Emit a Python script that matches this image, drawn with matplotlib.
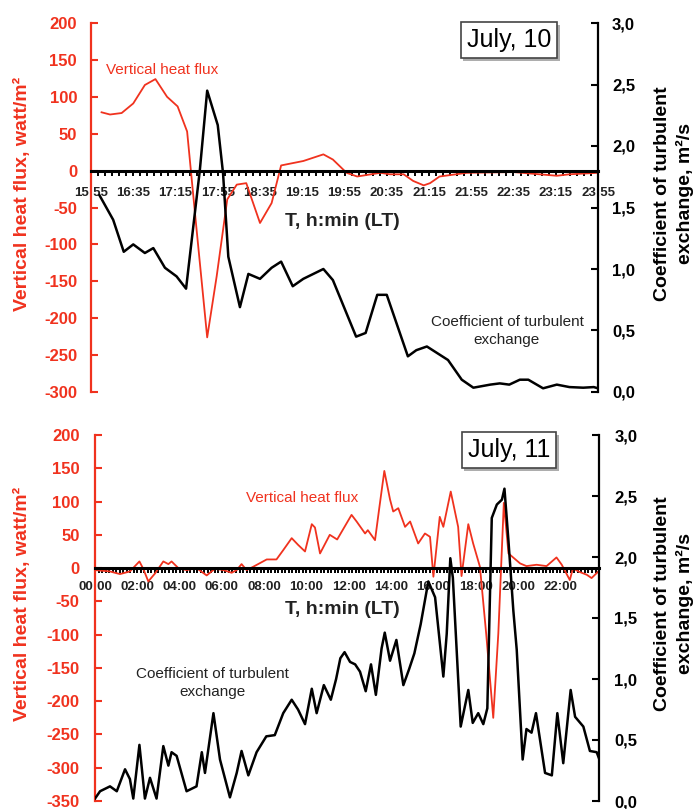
import numpy as np
import matplotlib
matplotlib.use('Agg')
import matplotlib.pyplot as plt
from matplotlib.ticker import FixedLocator
import matplotlib.patheffects as pe

plt.rcParams['font.family'] = ['Liberation Sans', 'DejaVu Sans']
plt.rcParams['axes.unicode_minus'] = False

RED = '#f0321e'
W, H = 698, 809

# ---- July 10 (times in minutes since midnight) ----
top_flux_min = [965, 973, 984, 995, 1006, 1016, 1027, 1037, 1046, 1054,
                1065, 1074, 1084, 1093, 1102, 1115, 1126, 1135, 1156, 1175,
                1184, 1197, 1207, 1229, 1238, 1251, 1260, 1270, 1276, 1285,
                1311, 1355, 1396, 1408, 1435]
top_flux = [79, 76, 78, 91, 116, 124, 100, 87, 53, -66,
            -226, -143, -39, -19, -17, -71, -44, 7, 13, 22,
            15, -3, -8, -3, -5, -5, -14, -20, -17, -8,
            -3, -2, -7, -5, -3]
top_k_min = [963, 976, 986, 995, 1006, 1014, 1025, 1036, 1045, 1058,
             1065, 1075, 1080, 1085, 1096, 1104, 1115, 1126, 1135, 1146,
             1156, 1175, 1184, 1206, 1215, 1226, 1235, 1255, 1263, 1273,
             1293, 1306, 1317, 1333, 1342, 1351, 1361, 1369, 1383, 1396,
             1408, 1421, 1431, 1435]
top_k = [1.60, 1.40, 1.14, 1.20, 1.13, 1.17, 1.01, 0.94, 0.84, 1.80,
         2.45, 2.17, 1.78, 1.10, 0.69, 0.96, 0.92, 1.01, 1.06, 0.86,
         0.92, 1.00, 0.91, 0.45, 0.48, 0.79, 0.79, 0.29, 0.34, 0.37,
         0.26, 0.10, 0.035, 0.06, 0.07, 0.06, 0.10, 0.10, 0.03, 0.06,
         0.04, 0.035, 0.04, 0.03]
top_ticks = ['15:55', '16:35', '17:15', '17:55', '18:35', '19:15', '19:55',
             '20:35', '21:15', '21:55', '22:35', '23:15', '23:55']

# ---- July 11 (times in hours) ----
bot_flux_h = [0.0, 0.7, 1.18, 1.65, 2.1, 2.28, 2.52, 2.84, 3.23, 3.47,
              3.62, 3.94, 4.33, 4.8, 5.28, 5.67, 6.07, 6.46, 6.7, 6.93,
              7.17, 7.48, 8.12, 8.58, 8.9, 9.3, 9.6, 9.93, 10.25, 10.4,
              10.64, 11.1, 11.45, 12.13, 12.37, 12.77, 12.9, 13.24, 13.44, 13.68,
              13.95, 14.1, 14.34, 14.66, 14.9, 15.28, 15.6, 15.84, 16.0, 16.3,
              16.47, 16.82, 17.17, 17.33, 17.65, 17.88, 18.2, 18.5, 18.83, 19.07,
              19.33, 19.55, 20.1, 20.4, 20.88, 21.35, 21.82, 22.07, 22.45, 22.6,
              22.85, 23.25, 23.48, 23.8]
bot_flux = [-3, -5, -9, -5, 10, -1, -20, -8, 10, 6,
            10, 0, -3, 0, -11, -1, -3, -7, -3, 6,
            -3, 2, 13, 13, 27, 45, 35, 25, 66, 61,
            22, 50, 43, 80, 70, 52, 57, 42, 90, 146,
            103, 85, 90, 62, 70, 37, 52, 47, -13, 77,
            62, 115, 62, -12, 66, 37, 2, -100, -225, -98,
            98, 22, 7, 3, 5, 3, 16, 5, -18, 0,
            -5, -10, -15, -5]
bot_k_h = [0.0, 0.24, 0.71, 1.03, 1.42, 1.65, 1.81, 2.1, 2.36, 2.6,
           2.91, 3.23, 3.47, 3.62, 3.86, 4.33, 4.8, 5.05, 5.2, 5.6,
           5.91, 6.38, 6.7, 6.93, 7.25, 7.64, 8.1, 8.5, 8.9, 9.3,
           9.6, 9.93, 10.25, 10.48, 10.82, 11.15, 11.4, 11.6, 11.8, 12.06,
           12.3, 12.53, 12.8, 13.05, 13.28, 13.55, 13.7, 13.95, 14.25, 14.58,
           14.85, 15.1, 15.4, 15.76, 16.08, 16.47, 16.63, 16.8, 16.92, 17.29,
           17.65, 17.86, 18.12, 18.36, 18.55, 18.76, 19.0, 19.24, 19.36, 19.55,
           19.78, 19.94, 20.22, 20.4, 20.64, 20.85, 21.28, 21.6, 21.86, 22.14,
           22.49, 22.7, 23.09, 23.4, 23.72, 23.85]
bot_k = [0.02, 0.08, 0.12, 0.08, 0.26, 0.18, 0.02, 0.46, 0.02, 0.19,
         0.02, 0.45, 0.29, 0.40, 0.37, 0.08, 0.12, 0.40, 0.23, 0.72,
         0.34, 0.03, 0.23, 0.41, 0.21, 0.40, 0.53, 0.54, 0.72, 0.83,
         0.75, 0.63, 0.92, 0.72, 0.95, 0.83, 1.0, 1.17, 1.22, 1.14,
         1.12, 1.06, 0.90, 1.12, 0.87, 1.25, 1.38, 1.15, 1.32, 0.95,
         1.08, 1.21, 1.45, 1.80, 1.67, 1.02, 1.37, 1.99, 1.83, 0.61,
         0.91, 0.64, 0.72, 0.63, 0.76, 2.32, 2.43, 2.47, 2.56, 2.13,
         1.56, 1.24, 0.34, 0.59, 0.56, 0.72, 0.23, 0.21, 0.72, 0.31,
         0.91, 0.69, 0.61, 0.41, 0.40, 0.34]
bot_ticks = ['00:00', '02:00', '04:00', '06:00', '08:00', '10:00',
             '12:00', '14:00', '16:00', '18:00', '20:00', '22:00']

k_ticks = [0.0, 0.5, 1.0, 1.5, 2.0, 2.5, 3.0]
k_labels = ['0,0', '0,5', '1,0', '1,5', '2,0', '2,5', '3,0']


def hours(s):
    h, m = s.split(':')
    return int(h) + int(m) / 60


def px(x, y):
    return x / W, 1 - y / H


fig = plt.figure(figsize=(W / 100, H / 100), dpi=100)


def panel(box, fx, fy, kx, ky, ticks, xlim, ylim, minor_step, tick_pad, ylab_pad,
          title, title_xy, flux_xy, k_xy, ylab_y, xlab_y):
    l, t, r, b = box
    ax = fig.add_axes([l / W, 1 - b / H, (r - l) / W, (b - t) / H])
    ax2 = ax.twinx()

    ax.plot(fx, fy, color=RED, lw=1.3, zorder=2)
    ax2.plot(kx, ky, color='black', lw=1.8)

    ax.set_xlim(xlim)
    ax.set_ylim(ylim)
    ax2.set_ylim(0, 3)

    ax.spines['top'].set_visible(False)
    ax.spines['right'].set_visible(False)
    ax.spines['left'].set_color(RED)
    ax.spines['left'].set_linewidth(1.6)
    ax.spines['bottom'].set_position(('data', 0))
    ax.spines['bottom'].set_linewidth(2.2)
    for s in ['top', 'left', 'bottom']:
        ax2.spines[s].set_visible(False)
    ax2.spines['right'].set_linewidth(1.6)

    ax.set_yticks(np.arange(ylim[0], ylim[1] + 1, 50))
    ax.tick_params(axis='y', direction='in', length=5, width=1.5, color=RED,
                   labelcolor=RED, labelsize=12, pad=ylab_pad)
    for lab in ax.get_yticklabels():
        lab.set_fontweight('bold')

    ax.set_xticks([hours(s) for s in ticks])
    ax.set_xticklabels(ticks, fontweight='bold')
    ax.xaxis.set_minor_locator(FixedLocator(np.arange(xlim[0], xlim[1] + 1e-6, minor_step)))
    ax.tick_params(axis='x', which='both', direction='out', length=3.5, width=1.4,
                   labelsize=9.5, pad=tick_pad, labelcolor='#222222')

    ax2.set_yticks(k_ticks)
    ax2.set_yticklabels(k_labels, fontweight='bold')
    ax2.tick_params(axis='y', direction='in', length=5, width=1.5,
                    labelsize=12, pad=ylab_pad)

    # axis titles
    fig.text(*px(22, ylab_y), 'Vertical heat flux, watt/m\u00b2', rotation=90,
             ha='center', va='center', color=RED, fontsize=14, fontweight='bold')
    fig.text(*px(674, ylab_y), 'Coefficient of turbulent\nexchange, m\u00b2/s',
             rotation=90, ha='center', va='center', fontsize=14,
             fontweight='bold', linespacing=1.35, multialignment='center')
    fig.text(*px(342, xlab_y), 'T, h:min (LT)', ha='center', va='center',
             fontsize=14, fontweight='bold', color='#222222')

    # in-plot labels
    fig.text(*px(*flux_xy), 'Vertical heat flux', ha='center', va='center',
             color=RED, fontsize=11)
    fig.text(*px(*k_xy), 'Coefficient of turbulent\nexchange', ha='center',
             va='center', fontsize=11, linespacing=1.3, color='#222222')

    tt = fig.text(*px(*title_xy), title, ha='center', va='center', fontsize=18,
                  bbox=dict(boxstyle='square,pad=0.25', fc='white', ec='#444444', lw=1.2))
    tt.get_bbox_patch().set_path_effects(
        [pe.withSimplePatchShadow(offset=(2, -2), shadow_rgbFace='#999999', alpha=0.8)])
    return ax, ax2


panel((91, 23, 598, 392),
      np.array(top_flux_min) / 60, top_flux, np.array(top_k_min) / 60, top_k,
      top_ticks, (hours('15:55'), hours('23:55')), (-300, 200), 40 / 360,
      8, 10, 'July, 10', (509, 40), (162, 70), (507, 331), 194, 222)

panel((95, 435, 599, 801),
      bot_flux_h, bot_flux, bot_k_h, bot_k,
      bot_ticks, (0, 23.83), (-350, 200), 1 / 6,
      6, 11, 'July, 11', (509, 450), (302, 498), (212, 683), 604, 610)

fig.savefig('out.png', dpi=100)
